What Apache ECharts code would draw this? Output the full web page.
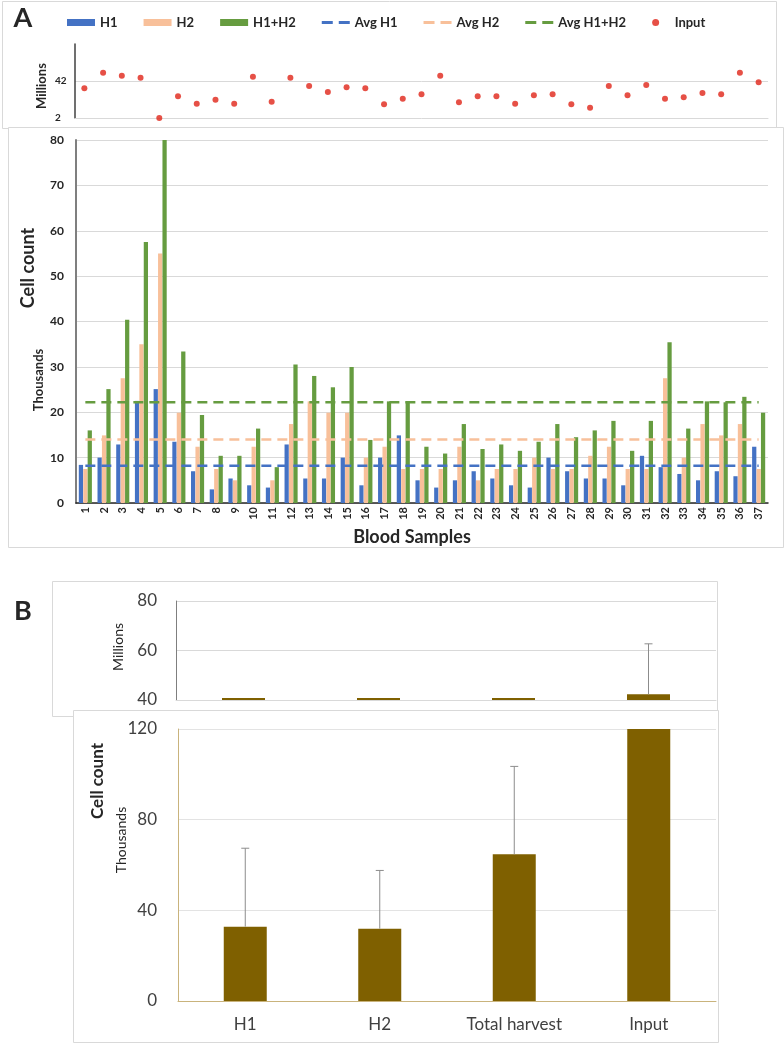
<!DOCTYPE html>
<html>
<head>
<meta charset="utf-8">
<script src="https://cdn.jsdelivr.net/npm/echarts@6/dist/echarts.min.js"></script>
<style>
html,body{margin:0;padding:0;background:#fff;}
#c{width:784px;height:1044px;}
</style>
</head>
<body>
<div id="c"></div>
<script>
// ---------- Panel A data ----------
const samples = ["1","2","3","4","5","6","7","8","9","10","11","12","13","14","15","16","17","18","19","20","21","22","23","24","25","26","27","28","29","30","31","32","33","34","35","36","37"];
// input cells (millions)
const inputMillions = [34.1,51,47.7,45.6,2,25.5,17.5,21.8,17.5,46.7,19.6,45.6,36.6,30.1,35.2,34.1,16.8,22.9,27.6,47.7,19,25.5,25.5,17.5,26.5,27.6,16.8,13.2,36.6,26.5,37.7,22.9,24.4,29,27.6,51,40.6];
// harvested cells (thousands)
const h1 = [8.4,10,12.9,22.5,25.1,13.5,7,3,5.4,3.9,3.4,12.9,5.4,5.4,10,3.9,10,14.9,5,3.4,5,7,5.4,3.9,3.4,10,7,5.4,5.4,3.9,10.4,7.9,6.4,5,7,5.9,12.4];
const h2 = [7.5,14.9,27.5,35,55,19.9,12.4,7.5,5,12.4,5,17.4,22.4,19.9,19.9,10,12.4,7.5,7.5,7.5,12.4,5,7.5,7.5,10,7.5,7.5,10.4,12.4,7.5,7.5,27.5,10,17.4,14.9,17.4,7.5];
const h12 = [16,25.1,40.4,57.5,80,33.4,19.4,10.4,10.4,16.4,7.9,30.5,28,25.5,30,13.9,22.4,22.4,12.4,10.9,17.4,11.9,12.9,11.5,13.5,17.4,14.5,16,18.1,11.5,18.1,35.4,16.4,22.4,22.2,23.4,19.9];
const avgH1 = 8.2, avgH2 = 14.0, avgH12 = 22.2;
const inputTicks = {min: 2, max: 82, step: 40};
const cellTicks = {min: 0, max: 80, step: 10};

// ---------- Panel B data (cell counts) ----------
const bCats = ["H1","H2","Total harvest","Input"];
const bMean = [32800, 31900, 64700, 42300000];
const bErr = [34600, 25700, 38800, 20400000];
const bTopTicks = {min: 40000000, max: 80000000, step: 20000000};
const bLowTicks = {min: 0, max: 120000, step: 40000};

const FONT = 'Lato';
const dark = '#262626';
const grid = '#d9d9d9';
const dashIcon = 'path://M0,0H11V3H0Z M17,0H28V3H17Z';

function errRender(params, api) {
  const i = api.value(0), m = api.value(1), e = api.value(2);
  const cs = params.coordSys;
  const p0 = api.coord([i, m]), p1 = api.coord([i, m + e]);
  const yTop = cs.y, yBot = cs.y + cs.height;
  const y0 = Math.min(p0[1], yBot), y1 = Math.max(p1[1], yTop);
  if (y0 <= y1) return null;
  const st = {stroke: '#8c8c8c', lineWidth: 1};
  const ch = [{type: 'line', shape: {x1: p0[0], y1: y0, x2: p0[0], y2: y1}, style: st}];
  if (p1[1] >= yTop) ch.push({type: 'line', shape: {x1: p0[0] - 4, y1: p1[1], x2: p0[0] + 4, y2: p1[1]}, style: st});
  return {type: 'group', children: ch};
}
function slabRender(params, api) {
  const i = api.value(0), v = api.value(1);
  const cs = params.coordSys;
  const lo = bTopTicks.min;
  const base = api.coord([i, lo]);
  const top = api.coord([i, Math.max(v, lo)]);
  const h = Math.max(base[1] - Math.max(top[1], cs.y), 2);
  return {type: 'rect', shape: {x: base[0] - 21.5, y: base[1] - h, width: 43, height: h}, style: {fill: '#7f6000'}};
}

function rtext(x, y, text, font, rot) {
  return {type: 'text', x: x, y: y, rotation: rot ? Math.PI / 2 : 0, z: 5,
    style: {text: text, font: font, fill: dark, align: 'center', verticalAlign: 'middle', textAlign: 'center', textVerticalAlign: 'middle'}};
}
function frame(x, y, w, h, z) {
  return {type: 'rect', z: z, shape: {x: x + 0.5, y: y + 0.5, width: w, height: h}, style: {fill: '#fff', stroke: grid, lineWidth: 1}};
}

const chart = echarts.init(document.getElementById('c'), null, {renderer: 'canvas'});
const errData = bMean.map((m, i) => [i, m, bErr[i]]);
const slabData = bMean.map((m, i) => [i, m]);

chart.setOption({
  animation: false,
  backgroundColor: '#fff',
  textStyle: {fontFamily: FONT},
  legend: {
    left: 67, top: 16, padding: 0, itemGap: 26, itemWidth: 28, itemHeight: 7,
    selectedMode: false,
    textStyle: {fontFamily: FONT, fontWeight: 'bold', fontSize: 13, color: dark},
    data: [
      {name: 'H1', icon: 'rect'}, {name: 'H2', icon: 'rect'}, {name: 'H1+H2', icon: 'rect'},
      {name: 'Avg H1', icon: dashIcon}, {name: 'Avg H2', icon: dashIcon}, {name: 'Avg H1+H2', icon: dashIcon},
      {name: 'Input', icon: 'circle'}
    ]
  },
  grid: [
    {left: 75, top: 44, width: 693, height: 74, outerBoundsMode: 'none'},
    {left: 76, top: 140, width: 692, height: 363, outerBoundsMode: 'none'},
    {left: 176, top: 601, width: 540, height: 99, outerBoundsMode: 'none'},
    {left: 178, top: 729, width: 538, height: 272, outerBoundsMode: 'none'}
  ],
  xAxis: [
    {gridIndex: 0, type: 'category', data: samples, axisLine: {lineStyle: {color: grid}}, axisTick: {show: false}, axisLabel: {show: false}},
    {gridIndex: 1, type: 'category', data: samples, axisLine: {lineStyle: {color: dark, width: 1.5}}, axisTick: {show: false},
     axisLabel: {interval: 0, rotate: 90, margin: 4, fontSize: 11, fontWeight: 'bold', color: dark, fontFamily: FONT}},
    {gridIndex: 2, type: 'category', data: bCats, axisLine: {lineStyle: {color: grid}}, axisTick: {show: false}, axisLabel: {show: false}},
    {gridIndex: 3, type: 'category', data: bCats, axisLine: {lineStyle: {color: '#c9b37c'}}, axisTick: {show: false},
     axisLabel: {interval: 0, margin: 15, fontSize: 17, color: '#404040', fontFamily: FONT}}
  ],
  yAxis: [
    {gridIndex: 0, type: 'value', min: inputTicks.min, max: inputTicks.max, interval: inputTicks.step,
     axisLine: {show: true, lineStyle: {color: '#404040', width: 1.5}}, axisTick: {show: false},
     axisLabel: {showMaxLabel: false, align: 'left', margin: 20, fontSize: 10, fontWeight: 'bold', color: dark, fontFamily: FONT},
     splitLine: {show: true, lineStyle: {color: ['rgba(0,0,0,0)', grid]}}},
    {gridIndex: 1, type: 'value', min: cellTicks.min, max: cellTicks.max, interval: cellTicks.step,
     axisLine: {show: true, lineStyle: {color: '#7f7f7f', width: 2}}, axisTick: {show: false},
     axisLabel: {margin: 12, fontSize: 12, fontWeight: 'bold', color: dark, fontFamily: FONT},
     splitLine: {lineStyle: {color: grid}}},
    {gridIndex: 2, type: 'value', min: bTopTicks.min, max: bTopTicks.max, interval: bTopTicks.step,
     axisLine: {show: true, lineStyle: {color: '#7f7f7f', width: 1}}, axisTick: {show: false},
     axisLabel: {margin: 19, fontSize: 17, color: '#404040', fontFamily: FONT, formatter: v => String(Math.round(v / 1e6))},
     splitLine: {lineStyle: {color: grid}}},
    {gridIndex: 3, type: 'value', min: bLowTicks.min, max: bLowTicks.max, interval: bLowTicks.step,
     axisLine: {show: true, lineStyle: {color: '#c9b37c', width: 1}}, axisTick: {show: false},
     axisLabel: {margin: 21, fontSize: 17, color: '#404040', fontFamily: FONT, formatter: v => String(Math.round(v / 1e3))},
     splitLine: {lineStyle: {color: '#e3e3e3'}}}
  ],
  series: [
    {name: 'H1', type: 'bar', xAxisIndex: 1, yAxisIndex: 1, data: h1, barGap: '4%', barCategoryGap: '30%', itemStyle: {color: '#4472c4'}},
    {name: 'H2', type: 'bar', xAxisIndex: 1, yAxisIndex: 1, data: h2, barGap: '4%', barCategoryGap: '30%', itemStyle: {color: '#f8c09a'}},
    {name: 'H1+H2', type: 'bar', xAxisIndex: 1, yAxisIndex: 1, data: h12, barGap: '4%', barCategoryGap: '30%', itemStyle: {color: '#669c40'}},
    {name: 'Avg H1', type: 'line', xAxisIndex: 1, yAxisIndex: 1, symbol: 'none', data: samples.map(() => avgH1),
     lineStyle: {color: '#4472c4', width: 2.5, type: [10, 6]}, itemStyle: {color: '#4472c4'}},
    {name: 'Avg H2', type: 'line', xAxisIndex: 1, yAxisIndex: 1, symbol: 'none', data: samples.map(() => avgH2),
     lineStyle: {color: '#f8c09a', width: 2.5, type: [10, 6]}, itemStyle: {color: '#f8c09a'}},
    {name: 'Avg H1+H2', type: 'line', xAxisIndex: 1, yAxisIndex: 1, symbol: 'none', data: samples.map(() => avgH12),
     lineStyle: {color: '#669c40', width: 2.5, type: [10, 6]}, itemStyle: {color: '#669c40'}},
    {name: 'Input', type: 'scatter', xAxisIndex: 0, yAxisIndex: 0, data: inputMillions, symbolSize: 6, itemStyle: {color: '#e02418'}},
    {name: 'bLow', type: 'bar', xAxisIndex: 3, yAxisIndex: 3, data: bMean, barWidth: 43, clip: true, itemStyle: {color: '#7f6000'}},
    {name: 'bLowErr', type: 'custom', xAxisIndex: 3, yAxisIndex: 3, data: errData, renderItem: errRender, z: 3},
    {name: 'bTop', type: 'custom', xAxisIndex: 2, yAxisIndex: 2, data: slabData, renderItem: slabRender},
    {name: 'bTopErr', type: 'custom', xAxisIndex: 2, yAxisIndex: 2, data: errData, renderItem: errRender, z: 3}
  ],
  graphic: [
    frame(2, 1, 774, 127, -10),
    frame(8, 127, 775, 420, -9),
    frame(52, 581, 665, 135, -10),
    frame(73, 710, 645, 332, -9),
    rtext(23, 18, 'A', 'bold 27px ' + FONT, false),
    rtext(23, 611, 'B', 'bold 27px ' + FONT, false),
    rtext(42, 86, 'Millions', 'bold 13px ' + FONT, true),
    rtext(28.5, 268, 'Cell count', 'bold 18px ' + FONT, true),
    rtext(38.5, 380, 'Thousands', 'bold 13px ' + FONT, true),
    rtext(412, 537, 'Blood Samples', 'bold 18px ' + FONT, false),
    rtext(118, 647, 'Millions', '14px ' + FONT, true),
    rtext(98, 781, 'Cell count', 'bold 17px ' + FONT, true),
    rtext(121.5, 840, 'Thousands', '14px ' + FONT, true)
  ]
});
</script>
</body>
</html>
